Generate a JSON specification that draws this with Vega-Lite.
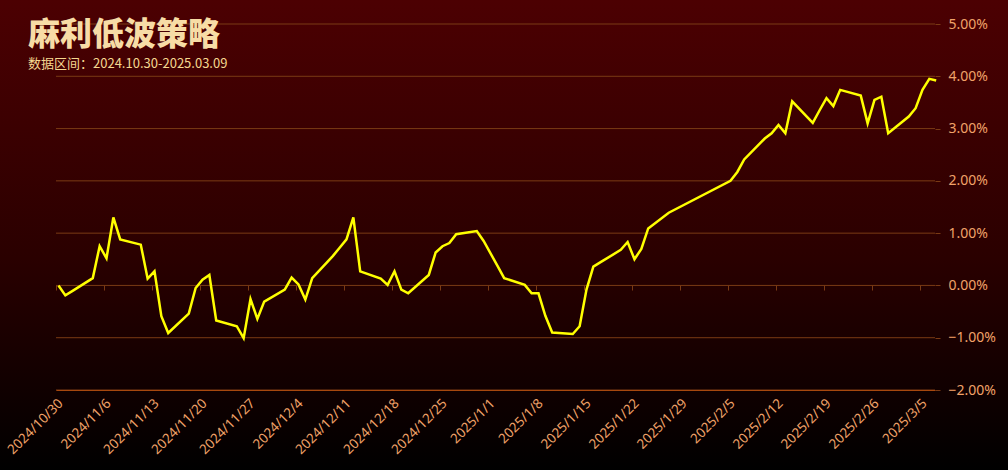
{
  "$schema": "https://vega.github.io/schema/vega-lite/v6.json",
  "width": 879,
  "height": 366,
  "autosize": {"type": "none"},
  "padding": {"left": 56, "top": 24, "right": 73, "bottom": 80},
  "background": "#000000",
  "config": {"view": {"stroke": null}, "font": "Noto Sans CJK SC"},
  "title": {
    "text": "麻利低波策略",
    "subtitle": "数据区间：2024.10.30-2025.03.09",
    "anchor": "start",
    "frame": "group",
    "orient": "top",
    "offset": -72,
    "dx": -28,
    "font": "Noto Sans CJK SC",
    "fontSize": 32,
    "fontWeight": 900,
    "color": "#f7dca6",
    "subtitleFont": "Noto Sans CJK SC",
    "subtitleFontSize": 13,
    "subtitleColor": "#f5d890",
    "subtitlePadding": 6,
    "zindex": 1
  },
  "data": {
    "values": [
      {"date": "2024/10/30", "ret": 0.00},
      {"date": "2024/10/31", "ret": -0.19},
      {"date": "2024/11/01", "ret": -0.11},
      {"date": "2024/11/04", "ret": 0.14},
      {"date": "2024/11/05", "ret": 0.75},
      {"date": "2024/11/06", "ret": 0.52},
      {"date": "2024/11/07", "ret": 1.30},
      {"date": "2024/11/08", "ret": 0.88},
      {"date": "2024/11/11", "ret": 0.78},
      {"date": "2024/11/12", "ret": 0.13},
      {"date": "2024/11/13", "ret": 0.27},
      {"date": "2024/11/14", "ret": -0.59},
      {"date": "2024/11/15", "ret": -0.91},
      {"date": "2024/11/18", "ret": -0.54},
      {"date": "2024/11/19", "ret": -0.05},
      {"date": "2024/11/20", "ret": 0.11},
      {"date": "2024/11/21", "ret": 0.20},
      {"date": "2024/11/22", "ret": -0.67},
      {"date": "2024/11/25", "ret": -0.78},
      {"date": "2024/11/26", "ret": -1.01},
      {"date": "2024/11/27", "ret": -0.26},
      {"date": "2024/11/28", "ret": -0.64},
      {"date": "2024/11/29", "ret": -0.31},
      {"date": "2024/12/02", "ret": -0.08},
      {"date": "2024/12/03", "ret": 0.15},
      {"date": "2024/12/04", "ret": 0.02},
      {"date": "2024/12/05", "ret": -0.27},
      {"date": "2024/12/06", "ret": 0.14},
      {"date": "2024/12/09", "ret": 0.56},
      {"date": "2024/12/10", "ret": 0.72},
      {"date": "2024/12/11", "ret": 0.88},
      {"date": "2024/12/12", "ret": 1.30},
      {"date": "2024/12/13", "ret": 0.27},
      {"date": "2024/12/16", "ret": 0.13},
      {"date": "2024/12/17", "ret": 0.01},
      {"date": "2024/12/18", "ret": 0.27},
      {"date": "2024/12/19", "ret": -0.08},
      {"date": "2024/12/20", "ret": -0.15},
      {"date": "2024/12/23", "ret": 0.20},
      {"date": "2024/12/24", "ret": 0.63},
      {"date": "2024/12/25", "ret": 0.75},
      {"date": "2024/12/26", "ret": 0.81},
      {"date": "2024/12/27", "ret": 0.98},
      {"date": "2024/12/30", "ret": 1.04},
      {"date": "2024/12/31", "ret": 0.85},
      {"date": "2025/01/02", "ret": 0.38},
      {"date": "2025/01/03", "ret": 0.14},
      {"date": "2025/01/06", "ret": 0.01},
      {"date": "2025/01/07", "ret": -0.15},
      {"date": "2025/01/08", "ret": -0.15},
      {"date": "2025/01/09", "ret": -0.58},
      {"date": "2025/01/10", "ret": -0.90},
      {"date": "2025/01/13", "ret": -0.93},
      {"date": "2025/01/14", "ret": -0.78},
      {"date": "2025/01/15", "ret": -0.08},
      {"date": "2025/01/16", "ret": 0.36},
      {"date": "2025/01/17", "ret": 0.44},
      {"date": "2025/01/20", "ret": 0.68},
      {"date": "2025/01/21", "ret": 0.83},
      {"date": "2025/01/22", "ret": 0.50},
      {"date": "2025/01/23", "ret": 0.70},
      {"date": "2025/01/24", "ret": 1.09},
      {"date": "2025/01/27", "ret": 1.39},
      {"date": "2025/02/05", "ret": 2.00},
      {"date": "2025/02/06", "ret": 2.17},
      {"date": "2025/02/07", "ret": 2.41},
      {"date": "2025/02/10", "ret": 2.81},
      {"date": "2025/02/11", "ret": 2.91},
      {"date": "2025/02/12", "ret": 3.07},
      {"date": "2025/02/13", "ret": 2.91},
      {"date": "2025/02/14", "ret": 3.52},
      {"date": "2025/02/17", "ret": 3.11},
      {"date": "2025/02/18", "ret": 3.35},
      {"date": "2025/02/19", "ret": 3.58},
      {"date": "2025/02/20", "ret": 3.43},
      {"date": "2025/02/21", "ret": 3.74},
      {"date": "2025/02/24", "ret": 3.63},
      {"date": "2025/02/25", "ret": 3.10},
      {"date": "2025/02/26", "ret": 3.55},
      {"date": "2025/02/27", "ret": 3.61},
      {"date": "2025/02/28", "ret": 2.91},
      {"date": "2025/03/03", "ret": 3.23},
      {"date": "2025/03/04", "ret": 3.39},
      {"date": "2025/03/05", "ret": 3.74},
      {"date": "2025/03/06", "ret": 3.95},
      {"date": "2025/03/07", "ret": 3.92}
    ]
  },
  "layer": [
    {
      "data": {"values": [{}]},
      "mark": {
        "type": "rect",
        "fill": {
          "gradient": "linear",
          "x1": 0, "y1": 0, "x2": 0, "y2": 1,
          "stops": [
            {"offset": 0, "color": "#4c0002"},
            {"offset": 0.55, "color": "#2a0000"},
            {"offset": 1, "color": "#000000"}
          ]
        }
      },
      "encoding": {
        "x": {"value": -56},
        "x2": {"value": 952},
        "y": {"value": -24},
        "y2": {"value": 446}
      }
    },
    {
      "data": {"values": [{"ret": -2}, {"ret": -1}, {"ret": 0}, {"ret": 1}, {"ret": 2}, {"ret": 3}, {"ret": 4}, {"ret": 5}]},
      "mark": {"type": "rule", "color": "#7a3a14", "strokeWidth": 1},
      "encoding": {
        "y": {"field": "ret", "type": "quantitative"}
      }
    },
    {
      "mark": {"type": "line", "color": "#ffff00", "strokeWidth": 2.5, "interpolate": "linear"},
      "encoding": {
        "x": {
          "field": "date",
          "type": "temporal",
          "scale": {
            "domain": [
              {"year": 2024, "month": 10, "date": 29, "hours": 15, "minutes": 15},
              {"year": 2025, "month": 3, "date": 6, "hours": 19, "minutes": 50}
            ]
          },
          "axis": {
            "title": null,
            "zindex": 1,
            "grid": false,
            "ticks": false,
            "domain": true,
            "domainColor": "#a8480e",
            "domainWidth": 1,
            "format": "%Y/%-m/%-d",
            "labelAngle": -45,
            "labelAlign": "right",
            "labelBaseline": "middle",
            "labelPadding": 11,
            "labelOffset": 2,
            "labelColor": "#f0a268",
            "labelFont": "Noto Sans",
            "labelFontSize": 13.5,
            "labelOverlap": false,
            "labelBound": false,
            "labelFlush": false,
            "values": [
              {"year": 2024, "month": 10, "date": 30},
              {"year": 2024, "month": 11, "date": 6},
              {"year": 2024, "month": 11, "date": 13},
              {"year": 2024, "month": 11, "date": 20},
              {"year": 2024, "month": 11, "date": 27},
              {"year": 2024, "month": 12, "date": 4},
              {"year": 2024, "month": 12, "date": 11},
              {"year": 2024, "month": 12, "date": 18},
              {"year": 2024, "month": 12, "date": 25},
              {"year": 2025, "month": 1, "date": 1},
              {"year": 2025, "month": 1, "date": 8},
              {"year": 2025, "month": 1, "date": 15},
              {"year": 2025, "month": 1, "date": 22},
              {"year": 2025, "month": 1, "date": 29},
              {"year": 2025, "month": 2, "date": 5},
              {"year": 2025, "month": 2, "date": 12},
              {"year": 2025, "month": 2, "date": 19},
              {"year": 2025, "month": 2, "date": 26},
              {"year": 2025, "month": 3, "date": 5}
            ]
          }
        },
        "y": {
          "field": "ret",
          "type": "quantitative",
          "scale": {"domain": [-2, 5], "nice": false, "zero": false},
          "axis": {
            "title": null,
            "orient": "right",
            "zindex": 1,
            "grid": false,
            "domain": false,
            "values": [-2, -1, 0, 1, 2, 3, 4, 5],
            "ticks": true,
            "tickSize": 5,
            "tickColor": "#7a3a14",
            "labelExpr": "format(datum.value, '.2f') + '%'",
            "labelPadding": 8,
            "labelColor": "#f0a268",
            "labelFont": "Noto Sans",
            "labelFontSize": 14
          }
        }
      }
    },
    {
      "mark": {"type": "line", "opacity": 0},
      "encoding": {
        "x": {
          "field": "date",
          "type": "temporal",
          "axis": {
            "title": null,
            "orient": "bottom",
            "offset": -105,
            "zindex": 1,
            "grid": false,
            "domain": false,
            "labels": false,
            "ticks": true,
            "tickSize": 5,
            "tickOffset": -2.5,
            "tickColor": "#7a3a14",
            "values": [
              {"year": 2024, "month": 10, "date": 30},
              {"year": 2024, "month": 11, "date": 6},
              {"year": 2024, "month": 11, "date": 13},
              {"year": 2024, "month": 11, "date": 20},
              {"year": 2024, "month": 11, "date": 27},
              {"year": 2024, "month": 12, "date": 4},
              {"year": 2024, "month": 12, "date": 11},
              {"year": 2024, "month": 12, "date": 18},
              {"year": 2024, "month": 12, "date": 25},
              {"year": 2025, "month": 1, "date": 1},
              {"year": 2025, "month": 1, "date": 8},
              {"year": 2025, "month": 1, "date": 15},
              {"year": 2025, "month": 1, "date": 22},
              {"year": 2025, "month": 1, "date": 29},
              {"year": 2025, "month": 2, "date": 5},
              {"year": 2025, "month": 2, "date": 12},
              {"year": 2025, "month": 2, "date": 19},
              {"year": 2025, "month": 2, "date": 26},
              {"year": 2025, "month": 3, "date": 5}
            ]
          }
        },
        "y": {"field": "ret", "type": "quantitative"}
      }
    }
  ],
  "resolve": {"axis": {"x": "independent"}}
}
